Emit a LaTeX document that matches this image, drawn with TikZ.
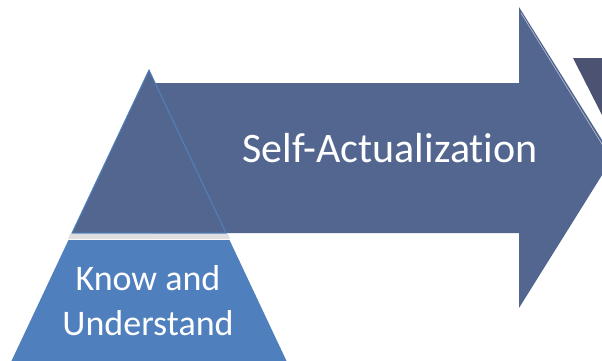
\documentclass[tikz,border=0pt]{standalone}
\usepackage{fontspec}
\setmainfont{Carlito}[Ligatures=NoCommon]
\usepackage{xcolor}
\usepackage{tikz}
\usetikzlibrary{positioning}

\definecolor{slateblue}{HTML}{536690}
\definecolor{edgeblue}{HTML}{4F81BD}
\definecolor{baseblue}{HTML}{4F7FBD}
\definecolor{nextgray}{HTML}{4B5272}

\begin{document}
\begin{tikzpicture}[
  x=1pt, y=-1pt,
  topfill/.style={fill=slateblue},
  peak/.style={fill=slateblue, draw=edgeblue, line width=1pt, line join=miter},
  basefill/.style={fill=baseblue},
  word/.style={text=white, align=center, inner sep=0pt},
]
% canvas
\fill[white] (0,0) rectangle (602,360);
\useasboundingbox (0,0) rectangle (602,360);
\begin{scope}
\clip (0,0) rectangle (602,360);
% next level peeking out on the right
\fill[nextgray] (573,58) -- (602,58) -- (602,115) -- cycle;
% big arrow
\fill[topfill] (152,83) -- (519,83) -- (519,7) -- (613,157.5) -- (519,308) -- (519,233) -- (152,233) -- cycle;
\draw[white!60!slateblue, line width=0.6pt] (521,13) -- (610,157);
% shadow under the top level
\fill[gray!25] (70,234) -- (228,234) -- (230,239) -- (68,239) -- cycle;
% top of the pyramid
\draw[peak] (149,70) -- (226,233) -- (72,233) -- cycle;
% base level
\fill[basefill] (68.5,240) -- (229.5,240) -- (287,362) -- (11,362) -- cycle;
\end{scope}
% labels
\node[word, font=\fontsize{42}{44}\selectfont] (selfact) at (390,148) {Self-Actualization};
\node[word, font=\fontsize{36}{45}\selectfont] (know) at (148,301) {Know and\\Understand};
\end{tikzpicture}
\end{document}
